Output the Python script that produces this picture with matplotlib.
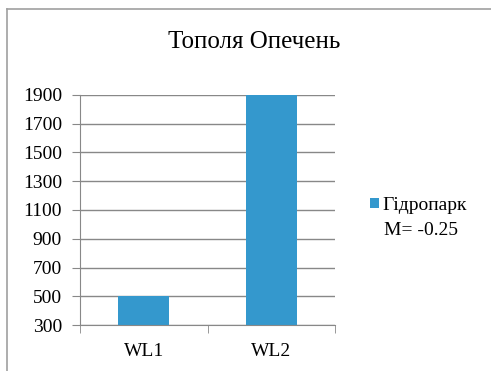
import numpy as np
import matplotlib.pyplot as plt
from matplotlib.lines import Line2D

categories = ['WL1', 'WL2']
values = [500, 1900]
yticks = np.arange(300, 1901, 200)
series_name = 'Гідропарк'
series_note = 'M= -0.25'

plt.rcParams['font.family'] = ['Liberation Serif', 'DejaVu Serif']

fig = plt.figure(figsize=(4.91, 3.71), dpi=100)
ax = fig.add_axes([80 / 491, 46 / 371, 255 / 491, 230 / 371])

x = np.arange(len(categories))
ax.bar(x, values, width=0.4, bottom=0, color='#3498cd', zorder=2, label=series_name)

ax.set_xlim(-0.5, 1.5)
ax.set_ylim(300, 1900)
ax.set_yticks(yticks)
ax.set_xticks(x)
ax.set_xticklabels(categories)
ax.set_xticks([-0.5, 0.5, 1.5], minor=True)
ax.grid(axis='y', color='#888888', linewidth=1, zorder=0)

for side in ['top', 'right']:
    ax.spines[side].set_visible(False)
for side in ['left', 'bottom']:
    ax.spines[side].set_color('#888888')
ax.tick_params(axis='y', length=6, color='#888888', labelsize=14, pad=7)
ax.tick_params(axis='x', which='major', length=0, labelsize=14, pad=13)
ax.tick_params(axis='x', which='minor', length=6, color='#888888')

fig.text(254 / 491, 1 - 48 / 371, 'Тополя Опечень', ha='center', va='baseline', fontsize=18)

ax.legend(loc='upper left', bbox_to_anchor=(370 / 491, 1 - 197 / 371),
          bbox_transform=fig.transFigure, frameon=False, fontsize=14,
          handlelength=0.45, handleheight=0.45, handletextpad=0.2,
          borderaxespad=0, borderpad=0)
fig.text(384 / 491, 1 - 235 / 371, series_note, ha='left', va='baseline', fontsize=14)

# outer chart frame
fig.add_artist(Line2D([6.5 / 491, 6.5 / 491], [0, 1 - 8.5 / 371], color='#a0a0a0', lw=1.2))
fig.add_artist(Line2D([6.5 / 491, 1], [1 - 8.5 / 371, 1 - 8.5 / 371], color='#a0a0a0', lw=1.2))

fig.savefig('out.png', dpi=100)
